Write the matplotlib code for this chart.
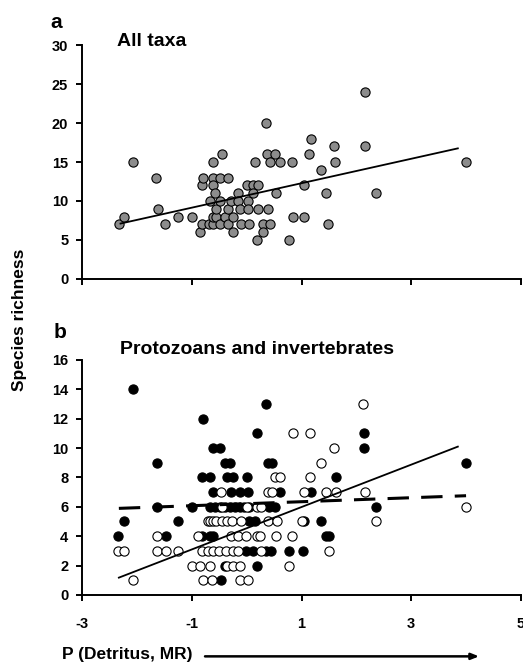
import numpy as np
import matplotlib

matplotlib.use("Agg")
import matplotlib.pyplot as plt

plt.rcParams["font.family"] = ["Liberation Sans", "DejaVu Sans"]
plt.rcParams["font.weight"] = "bold"
plt.rcParams["axes.unicode_minus"] = False

# panel a: all taxa (x = P(Detritus, MR), y = species richness)
all_x = [-2.33, -2.23, -2.07, -1.65, -1.61, -1.48, -1.25, -1.0, -0.85, -0.82,
         -0.79, -0.82, -0.68, -0.67, -0.61, -0.61, -0.61, -0.61, -0.61, -0.58,
         -0.55, -0.55, -0.49, -0.49, -0.49, -0.45, -0.39, -0.34, -0.34, -0.34,
         -0.28, -0.25, -0.24, -0.16, -0.16, -0.13, -0.1, 0.0, 0.02, 0.02,
         0.05, 0.11, 0.11, 0.16, 0.18, 0.2, 0.2, 0.3, 0.3, 0.35,
         0.37, 0.38, 0.42, 0.43, 0.51, 0.53, 0.6, 0.78, 0.83, 0.84,
         1.04, 1.05, 1.13, 1.18, 1.36, 1.44, 1.49, 1.59, 1.61, 2.15,
         2.16, 2.35, 3.99]
all_y = [7, 8, 15, 13, 9, 7, 8, 8, 6, 12,
         13, 7, 7, 10, 15, 13, 12, 7, 8, 11,
         8, 9, 7, 13, 10, 16, 8, 13, 9, 7,
         10, 6, 8, 11, 10, 9, 7, 12, 10, 9,
         7, 12, 11, 15, 5, 12, 9, 7, 6, 20,
         16, 9, 7, 15, 16, 11, 15, 5, 15, 8,
         8, 12, 16, 18, 14, 11, 7, 17, 15, 24,
         17, 11, 15]

# panel b: filled symbols, by richness value
filled_rows = {
    14: [-2.07],
    13: [0.35],
    12: [-0.79],
    11: [0.18, 2.14],
    10: [-0.61, -0.49, 2.14],
    9: [-1.64, -0.40, -0.31, 0.38, 0.47, 4.0],
    8: [-0.82, -0.67, -0.35, -0.25, 0.0, 1.62],
    7: [-0.61, -0.28, -0.13, 0.02, 0.6, 1.18],
    6: [-1.64, -1.0, -0.67, -0.58, -0.49, -0.40, -0.31, -0.22, -0.13,
        -0.04, 0.05, 0.4, 0.52, 2.35],
    5: [-2.24, -1.25, 0.05, 0.15, 1.04, 1.35],
    4: [-2.34, -1.47, -0.82, -0.67, -0.61, 1.44, 1.51],
    3: [-0.01, 0.11, 0.36, 0.45, 0.78, 1.02],
    2: [-0.4, 0.18],
    1: [-0.46],
}
# panel b: open symbols, by richness value
open_rows = {
    13: [2.13],
    11: [0.84, 1.16],
    10: [1.59],
    9: [1.35],
    8: [0.51, 0.6, 1.15],
    7: [-0.46, 0.38, 0.47, 1.05, 1.44, 1.62, 2.15],
    6: [-0.45, 0.0, 0.18, 0.27, 4.0],
    5: [-0.71, -0.66, -0.62, -0.55, -0.45, -0.36, -0.27, -0.1, 0.38,
        0.55, 1.0, 2.35],
    4: [-1.64, -0.89, -0.28, -0.16, -0.01, 0.18, 0.24, 0.54, 0.82],
    3: [-2.34, -2.24, -1.64, -1.47, -1.25, -0.82, -0.71, -0.62, -0.5,
        -0.38, -0.25, -0.16, 0.27, 1.5],
    2: [-1.0, -0.85, -0.67, -0.35, -0.25, -0.13, 0.78],
    1: [-2.08, -0.8, -0.64, -0.13, 0.02],
}

# regression lines: (intercept, slope, x start, x end)
fit_all = (10.71, 1.569, -2.3, 3.85)
fit_open = (4.54, 1.443, -2.33, 3.85)
fit_filled = (6.21, 0.136, -2.33, 4.0)

x_ticks = [-3, -1, 1, 3, 5]


def rows_to_xy(rows):
    xs, ys = [], []
    for yv, xvals in rows.items():
        xs += xvals
        ys += [yv] * len(xvals)
    return np.array(xs), np.array(ys)


def draw_fit(ax, fit, **kw):
    b0, b1, x0, x1 = fit
    xx = np.array([x0, x1])
    ax.plot(xx, b0 + b1 * xx, color="black", **kw)


def style_axes(ax, ymax, ystep, xlabels):
    for side in ("top", "right"):
        ax.spines[side].set_visible(False)
    for side in ("left", "bottom"):
        ax.spines[side].set_linewidth(1.4)
    ax.set_xlim(-3, 5)
    ax.set_ylim(0, ymax)
    ax.set_xticks(x_ticks)
    ax.set_yticks(np.arange(0, ymax + 1, ystep))
    ax.tick_params(direction="out", length=4, width=1.4, labelsize=10.5)
    ax.tick_params(axis="y", pad=6)
    ax.tick_params(axis="x", pad=12)
    if not xlabels:
        ax.set_xticklabels([])
    for lab in ax.get_xticklabels() + ax.get_yticklabels():
        lab.set_fontweight("bold")


fig = plt.figure(figsize=(5.23, 6.64), dpi=100)
ax_a = fig.add_axes([0.157, 0.580, 0.839, 0.352])
ax_b = fig.add_axes([0.157, 0.104, 0.839, 0.354])
for ax in (ax_a, ax_b):
    ax.patch.set_alpha(0)

# panel a
ax_a.scatter(all_x, all_y, s=44, facecolor="#8c8c8c", edgecolor="black",
             linewidth=0.8, zorder=3, clip_on=False)
draw_fit(ax_a, fit_all, linewidth=1.3, zorder=4)
style_axes(ax_a, 30, 5, xlabels=False)

# panel b
fx, fy = rows_to_xy(filled_rows)
ox, oy = rows_to_xy(open_rows)
ax_b.scatter(fx, fy, s=44, facecolor="black", edgecolor="black",
             linewidth=0.8, zorder=3, clip_on=False)
ax_b.scatter(ox, oy, s=44, facecolor="white", edgecolor="black",
             linewidth=0.8, zorder=3, clip_on=False)
draw_fit(ax_b, fit_open, linewidth=1.3, zorder=4)
draw_fit(ax_b, fit_filled, linewidth=2.2, dashes=(7, 4), zorder=4)
style_axes(ax_b, 16, 2, xlabels=True)

# labels
fig.text(0.096, 0.958, "a", fontsize=15, fontweight="bold")
fig.text(0.103, 0.491, "b", fontsize=15, fontweight="bold")
fig.text(0.224, 0.931, "All taxa", fontsize=14, fontweight="bold")
fig.text(0.229, 0.467, "Protozoans and invertebrates", fontsize=14,
         fontweight="bold")
fig.text(0.038, 0.518, "Species richness", rotation=90, fontsize=12.5,
         fontweight="bold", ha="center", va="center")
fig.text(0.119, 0.015, "P (Detritus, MR)", fontsize=12.5, fontweight="bold",
         ha="left", va="center")
fig.add_artist(matplotlib.patches.FancyArrowPatch(
    (0.392, 0.0115), (0.916, 0.0115), transform=fig.transFigure,
    arrowstyle="-|>,head_length=4.5,head_width=1.8", linewidth=1.8,
    color="black", shrinkA=0, shrinkB=0))

fig.savefig("out.png", dpi=100)
